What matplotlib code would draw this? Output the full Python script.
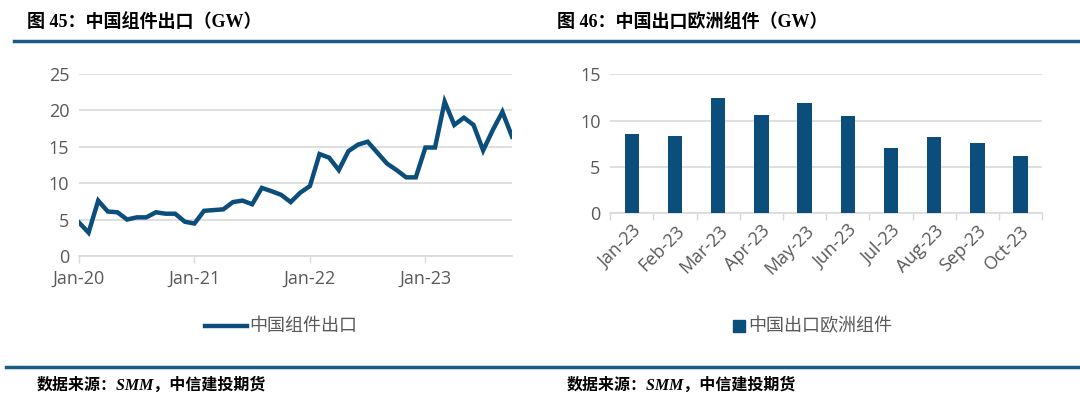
import matplotlib
matplotlib.use("Agg")
import matplotlib.pyplot as plt
from matplotlib.lines import Line2D
from matplotlib.patches import Rectangle
import numpy as np

plt.rcParams['font.family'] = ['Open Sans', 'Noto Sans CJK SC', 'DejaVu Sans']

# China module exports, monthly Jan-20 .. Oct-23 (GW)
export_total = [4.6, 3.2, 7.6, 6.1, 6.0, 5.0, 5.3, 5.3, 6.0, 5.8, 5.8, 4.7,
                4.45, 6.2, 6.3, 6.4, 7.4, 7.6, 7.1, 9.35, 8.9, 8.4, 7.4, 8.7,
                9.6, 14.0, 13.5, 11.8, 14.4, 15.3, 15.7, 14.2, 12.7, 11.8, 10.8, 10.8,
                14.9, 14.9, 21.2, 18.0, 19.0, 18.0, 14.5, 17.3, 19.8, 16.4]
year_ticks = [0, 12, 24, 36]
year_labels = ["Jan-20", "Jan-21", "Jan-22", "Jan-23"]

# China module exports to Europe, 2023 (GW)
eu_months = ["Jan-23", "Feb-23", "Mar-23", "Apr-23", "May-23",
             "Jun-23", "Jul-23", "Aug-23", "Sep-23", "Oct-23"]
eu_values = [8.6, 8.35, 12.5, 10.6, 11.9, 10.5, 7.05, 8.2, 7.6, 6.15]

blue = "#0B4D7B"
rule_blue = "#1B5A87"
grid_c = "#D9D9D9"
tick_c = "#595959"
title_fam = ['Liberation Serif', 'Noto Sans CJK SC']
tick_fs = 13

fig = plt.figure(figsize=(10.8, 3.98), dpi=100)

# ---- left: line chart
ax1 = fig.add_axes([0.0731, 0.357, 0.401, 0.457])
ax1.plot(range(len(export_total)), export_total, color=blue, lw=3.2,
         solid_joinstyle='miter')
ax1.set_xlim(0, len(export_total) - 1)
ax1.set_ylim(0, 25)
ax1.set_yticks(range(0, 26, 5))
ax1.set_xticks(year_ticks)
ax1.set_xticklabels(year_labels)

# ---- right: bar chart
ax2 = fig.add_axes([0.565, 0.464, 0.400, 0.349])
x = np.arange(len(eu_months))
ax2.bar(x, eu_values, width=0.33, color=blue, zorder=3)
ax2.set_xlim(-0.5, len(eu_months) - 0.5)
ax2.set_ylim(0, 15)
ax2.set_yticks(range(0, 16, 5))
ax2.set_xticks(x)
ax2.set_xticklabels(eu_months, rotation=45, ha='right', rotation_mode='anchor')
ax2.set_xticks(np.arange(-0.5, len(eu_months)), minor=True)
ax2.tick_params(axis='x', which='major', length=0, pad=6)
ax2.tick_params(axis='x', which='minor', length=5, color=grid_c, width=1)

for ax in (ax1, ax2):
    for s in ("top", "right", "left"):
        ax.spines[s].set_visible(False)
    ax.spines["bottom"].set_color(grid_c)
    ax.spines["bottom"].set_linewidth(1.2)
    ax.grid(axis='y', color=grid_c, lw=1.2)
    ax.set_axisbelow(True)
    ax.tick_params(axis='y', length=0, labelsize=tick_fs, labelcolor=tick_c, pad=7)
    ax.tick_params(axis='x', labelsize=tick_fs, labelcolor=tick_c)
ax1.tick_params(axis='x', length=5, color=grid_c, width=1, pad=5)

# ---- titles, rules, legends, footers
fig.text(0.025, 0.945, "图 45：中国组件出口（GW）", family=title_fam,
         fontsize=13, fontweight='bold', va='center')
fig.text(0.516, 0.945, "图 46：中国出口欧洲组件（GW）", family=title_fam,
         fontsize=13, fontweight='bold', va='center')
fig.add_artist(Line2D([0.013, 0.998], [0.897, 0.897], color=rule_blue, lw=2.5))
fig.add_artist(Line2D([0.006, 1.0], [0.077, 0.077], color=rule_blue, lw=2.5))

fig.add_artist(Line2D([0.190, 0.229], [0.181, 0.181], color=blue, lw=3.2))
fig.text(0.231, 0.181, "中国组件出口", family=['Noto Sans CJK SC'],
         fontsize=13, color=tick_c, va='center')
fig.add_artist(Rectangle((0.679, 0.167), 0.0105, 0.03, color=blue,
                         transform=fig.transFigure))
fig.text(0.693, 0.181, "中国出口欧洲组件", family=['Noto Sans CJK SC'],
         fontsize=13, color=tick_c, va='center')

fig.text(0.034, 0.030, "数据来源：SMM，中信建投期货", family=title_fam,
         fontsize=11.5, fontweight='bold', style='italic', va='center')
fig.text(0.525, 0.030, "数据来源：SMM，中信建投期货", family=title_fam,
         fontsize=11.5, fontweight='bold', style='italic', va='center')

fig.savefig("out.png", dpi=100)
